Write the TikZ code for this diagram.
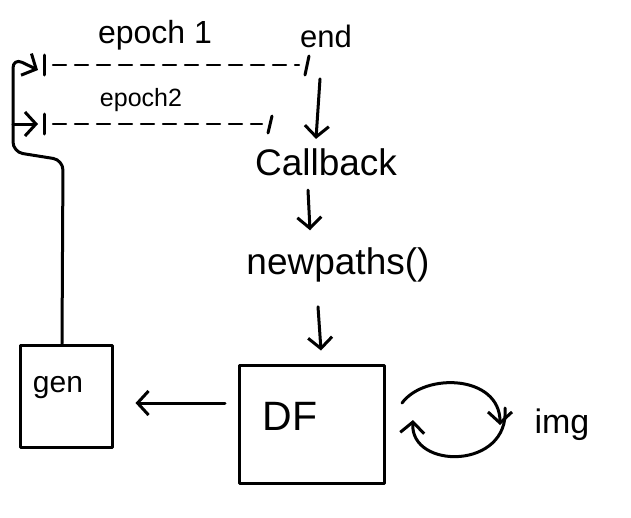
\documentclass[tikz,border=0pt]{standalone}
\usepackage{fontspec}
\setmainfont{Liberation Sans}
\usetikzlibrary{arrows.meta}
\begin{document}
\begin{tikzpicture}[x=1pt,y=-1pt, line width=3pt, line cap=round, line join=round,
  arr/.style={-{Straight Barb[length=11pt,width=24pt,line width=3pt]}},
  dsh/.style={dash pattern=on 13pt off 9pt, line width=2.4pt},
  lbl/.style={inner sep=0pt},
  box/.style={draw, inner sep=0pt, line width=3pt}]
\useasboundingbox (0,0) rectangle (631,517);
% labels
\node[lbl, font=\fontsize{32}{36}\selectfont] (e1) at (155,35) {epoch 1};
\node[lbl, font=\fontsize{31}{34}\selectfont] (endl) at (326,36) {end};
\node[lbl, font=\fontsize{25}{28}\selectfont] (e2) at (141,100) {epoch2};
\node[lbl, font=\fontsize{37}{40}\selectfont] (cb) at (326,162) {Callback};
\node[lbl, font=\fontsize{37}{40}\selectfont] (np) at (338,265) {newpaths()};
% boxes
\node[box, minimum width=92pt, minimum height=102pt] (gen) at (66,396) {};
\node[lbl, font=\fontsize{30}{34}\selectfont] (gent) at (58,388) {gen};
\node[box, minimum width=145pt, minimum height=118pt] (df) at (312,424) {};
\node[lbl, font=\fontsize{41}{44}\selectfont] (dft) at (290,416) {DF};
\node[lbl, font=\fontsize{34}{38}\selectfont] (img) at (562,425) {img};
% epoch timelines
\coordinate (s1) at (44,65);
\coordinate (f1) at (307,65);
\coordinate (s2) at (44,124);
\coordinate (f2) at (270,124);
\draw (s1) ++(0,-10) -- ++(0,20);
\draw (s2) ++(0,-10) -- ++(0,20);
\draw (f1) ++(-2,10) -- ++(4,-19);
\draw (f2) ++(-2,9) -- ++(4,-17);
\draw[dsh] ([xshift=9pt]s1) -- ([xshift=-8pt]f1);
\draw[dsh] ([xshift=9pt]s2) -- ([xshift=-8pt]f2);
% loop back from gen
\draw[arr, rounded corners=10pt] ([xshift=-4pt]gen.north) -- (63,160) -- (13,152) -- (13,58) -- ([xshift=-6pt,yshift=-5pt]s1);
\draw[arr] (13,124) -- ([xshift=-6pt]s2);
% flow arrows
\draw[arr] (endl.south) ++(-6,30) -- ([xshift=-10pt,yshift=8pt]cb.north);
\draw[arr] ([xshift=-18pt,yshift=-13pt]cb.south) -- ([xshift=-28pt,yshift=16pt]np.north);
\draw[arr] ([xshift=-20pt,yshift=-23pt]np.south) -- ([xshift=9pt,yshift=13pt]df.north);
\draw[arr] ([xshift=-13pt,yshift=21pt]df.west) -- ([xshift=22pt,yshift=-7pt]gen.east);
% cycle arrows
\draw[arr] ([xshift=16pt,yshift=21pt]df.east) .. controls (425,372) and (500,375) .. (500,425);
\draw[arr] (505,408) .. controls (510,470) and (410,470) .. (413,420);
\end{tikzpicture}
\end{document}
